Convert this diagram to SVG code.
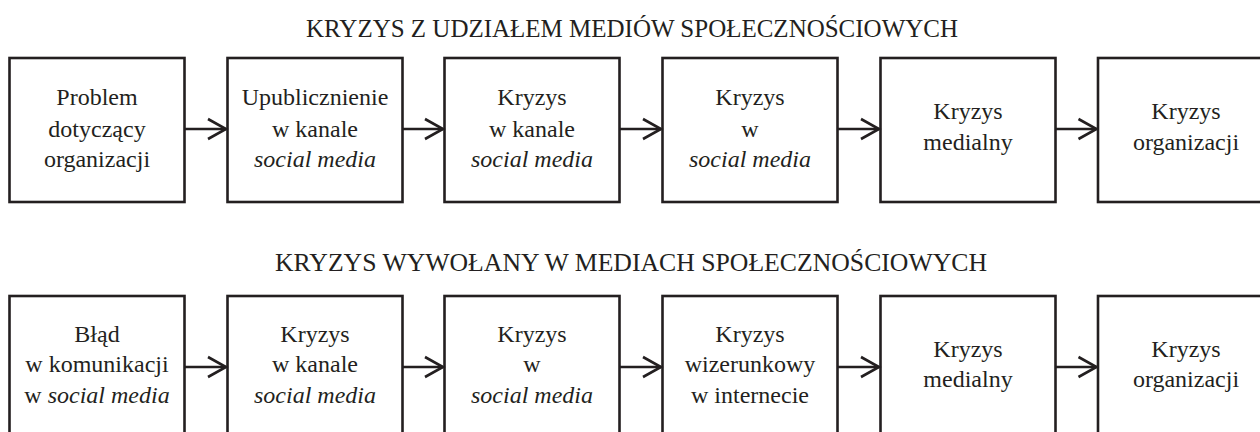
<svg xmlns="http://www.w3.org/2000/svg" width="1260" height="432" viewBox="0 0 1260 432">
<style>
text{fill:#231f20;text-anchor:middle}
.t{font-size:24.5px}
.b{font-size:24px}
.i{font-style:italic}
rect{fill:#fff;stroke:#231f20;stroke-width:2.6}
.c line,.c polyline{fill:none;stroke:#231f20;stroke-width:2.6}
</style>
<rect x="0" y="0" width="1260" height="432" style="stroke:none"/>
<g font-family="Liberation Serif, Tinos, DejaVu Serif, Times New Roman, serif">
<text class="t" x="632" y="37" textLength="652" lengthAdjust="spacingAndGlyphs">KRYZYS Z UDZIAŁEM MEDIÓW SPOŁECZNOŚCIOWYCH</text>
<text class="t" x="631" y="271" textLength="712" lengthAdjust="spacingAndGlyphs">KRYZYS WYWOŁANY W MEDIACH SPOŁECZNOŚCIOWYCH</text>
<g id="n1"><rect x="9.5" y="58" width="175" height="144"/><text class="b" x="97" y="105">Problem</text><text class="b" x="97" y="136.5">dotyczący</text><text class="b" x="97" y="167">organizacji</text></g>
<g id="n2"><rect x="227.5" y="58" width="175" height="144"/><text class="b" x="315" y="105">Upublicznienie</text><text class="b" x="315" y="136.5">w kanale</text><text class="b i" x="315" y="167">social media</text></g>
<g id="n3"><rect x="444.5" y="58" width="175" height="144"/><text class="b" x="532" y="105">Kryzys</text><text class="b" x="532" y="136.5">w kanale</text><text class="b i" x="532" y="167">social media</text></g>
<g id="n4"><rect x="662.5" y="58" width="175" height="144"/><text class="b" x="750" y="105">Kryzys</text><text class="b" x="750" y="136.5">w</text><text class="b i" x="750" y="167">social media</text></g>
<g id="n5"><rect x="880.5" y="58" width="175" height="144"/><text class="b" x="968" y="119">Kryzys</text><text class="b" x="968" y="150">medialny</text></g>
<g id="n6"><rect x="1098" y="58" width="175" height="144"/><text class="b" x="1186" y="119">Kryzys</text><text class="b" x="1186" y="150">organizacji</text></g>
<g id="m1"><rect x="9.5" y="296" width="175" height="150"/><text class="b" x="97" y="341.5">Błąd</text><text class="b" x="97" y="372">w komunikacji</text><text class="b" x="97" y="403">w <tspan class="i">social media</tspan></text></g>
<g id="m2"><rect x="227.5" y="296" width="175" height="150"/><text class="b" x="315" y="341.5">Kryzys</text><text class="b" x="315" y="372">w kanale</text><text class="b i" x="315" y="403">social media</text></g>
<g id="m3"><rect x="444.5" y="296" width="175" height="150"/><text class="b" x="532" y="341.5">Kryzys</text><text class="b" x="532" y="372">w</text><text class="b i" x="532" y="403">social media</text></g>
<g id="m4"><rect x="662.5" y="296" width="175" height="150"/><text class="b" x="750" y="341.5">Kryzys</text><text class="b" x="750" y="372">wizerunkowy</text><text class="b" x="750" y="403">w internecie</text></g>
<g id="m5"><rect x="880.5" y="296" width="175" height="150"/><text class="b" x="968" y="357">Kryzys</text><text class="b" x="968" y="387">medialny</text></g>
<g id="m6"><rect x="1098" y="296" width="175" height="150"/><text class="b" x="1186" y="357">Kryzys</text><text class="b" x="1186" y="387">organizacji</text></g>
</g>
<g class="c" id="connectors">
<line x1="184.5" y1="129" x2="226" y2="129"/><polyline points="208,119 226,129 208,139"/>
<line x1="402.5" y1="129" x2="443" y2="129"/><polyline points="425,119 443,129 425,139"/>
<line x1="619.5" y1="129" x2="661" y2="129"/><polyline points="643,119 661,129 643,139"/>
<line x1="837.5" y1="129" x2="879" y2="129"/><polyline points="861,119 879,129 861,139"/>
<line x1="1055.5" y1="129" x2="1096.5" y2="129"/><polyline points="1078.5,119 1096.5,129 1078.5,139"/>
<line x1="184.5" y1="367" x2="226" y2="367"/><polyline points="208,357 226,367 208,377"/>
<line x1="402.5" y1="367" x2="443" y2="367"/><polyline points="425,357 443,367 425,377"/>
<line x1="619.5" y1="367" x2="661" y2="367"/><polyline points="643,357 661,367 643,377"/>
<line x1="837.5" y1="367" x2="879" y2="367"/><polyline points="861,357 879,367 861,377"/>
<line x1="1055.5" y1="367" x2="1096.5" y2="367"/><polyline points="1078.5,357 1096.5,367 1078.5,377"/>
</g>
</svg>
